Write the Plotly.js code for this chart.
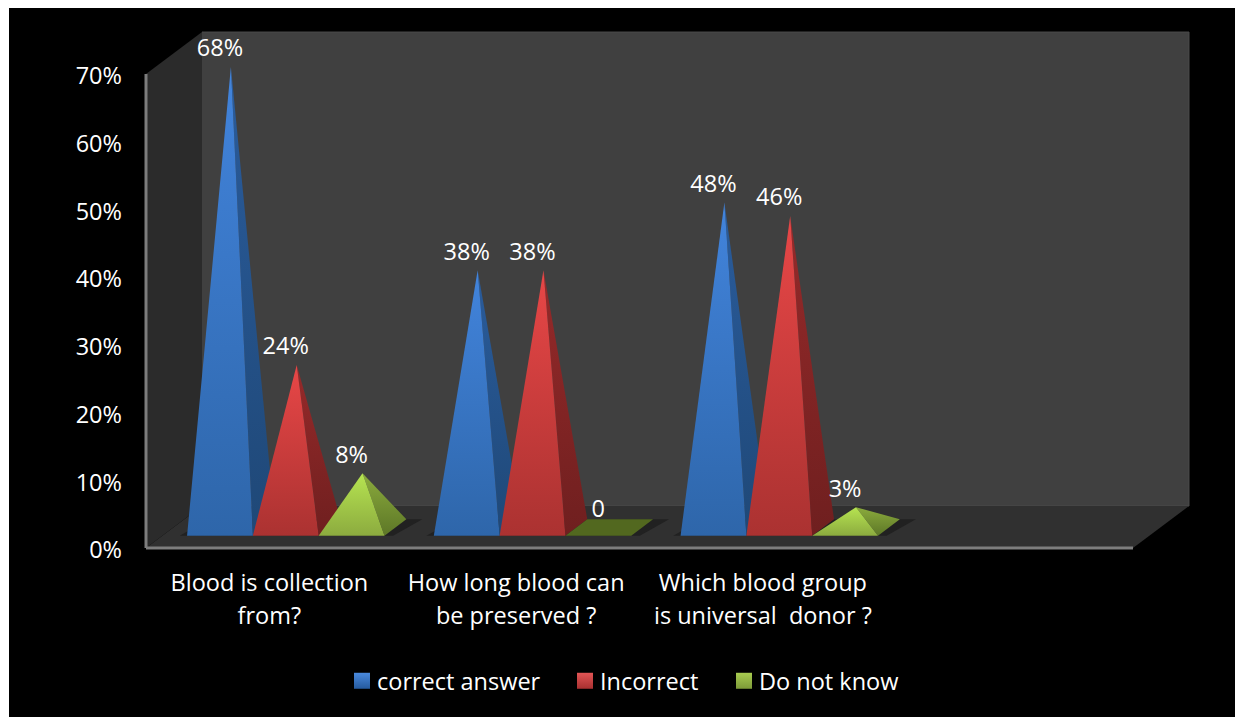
<!DOCTYPE html>
<html>
<head>
<meta charset="utf-8">
<script src="https://cdn.plot.ly/plotly-3.0.1.min.js"></script>
<style>
  html, body { margin: 0; padding: 0; background: #fff; overflow: hidden; }
  #chart { width: 1235px; height: 717px; }
</style>
</head>
<body>
<div id="chart"></div>
<script>
// Survey results
const categories = ['Blood is collection<br>from?', 'How long blood can<br>be preserved ?', 'Which blood group<br>is universal  donor ?'];
const seriesNames = ['correct answer', 'Incorrect', 'Do not know'];
const correctAnswer = [68, 38, 48];
const incorrect = [24, 38, 46];
const doNotKnow = [8, 0, 3];
const yTicks = [0, 10, 20, 30, 40, 50, 60, 70];

const seriesValues = [correctAnswer, incorrect, doNotKnow];

// Canvas and oblique projection settings
const W = 1235, H = 717;
const originX = 146, originY = 548;        // pixel of slot 0, value 0, depth 0
const pxPerSlot = 246.75, pxPerValue = 6.771;
const depthX = 56 / pxPerSlot, depthY = 42 / pxPerValue; // full depth shift in axis units
const slotCount = 4;
const barWidth = 1 / 3.75, gapLeft = 0.375 * barWidth;
const zFront = 0.293, zBack = 0.683, zMid = (zFront + zBack) / 2;

const FONT = 'Open Sans, sans-serif';
const FONT_SIZE = 23.5;

// Gradient stops run bottom colour first, top colour second
const faceColors = [
  { front: ['#2e66aa', '#4284dc'], side: ['#1f4877', '#2a5c9c'], base: '#2e66aa', swatch: ['#4a8ade', '#255a9e'] },
  { front: ['#ab3231', '#e84747'], side: ['#6f1f1f', '#962a2a'], base: '#ab3231', swatch: ['#e25555', '#a83030'] },
  { front: ['#8cab3f', '#b6e451'], side: ['#5d7727', '#8bab3d'], base: '#52681f', swatch: ['#a8cc50', '#7d9a38'] }
];

// Map slot position, value and depth to axis coordinates
function proj(slot, value, z) {
  return { x: slot + z * depthX, y: value + z * depthY };
}

function polygon(points, style) {
  return Object.assign({
    type: 'scatter', mode: 'lines', fill: 'toself',
    x: points.map(p => p.x), y: points.map(p => p.y),
    line: { width: 0 }, hoverinfo: 'skip', showlegend: false
  }, style);
}

function gradient(colors) {
  return { type: 'vertical', colorscale: [[0, colors[0]], [1, colors[1]]] };
}

const traces = [];

// Chart walls and floor
const maxV = yTicks[yTicks.length - 1];
traces.push(polygon([proj(0, 0, 1), proj(slotCount, 0, 1), proj(slotCount, maxV, 1), proj(0, maxV, 1)],
  { fillcolor: '#404040', line: { width: 1, color: '#4a4a4a' } }));
traces.push(polygon([proj(0, 0, 0), proj(0, 0, 1), proj(0, maxV, 1), proj(0, maxV, 0)],
  { fillcolor: '#2b2b2b' }));
traces.push(polygon([proj(0, 0, 0), proj(slotCount, 0, 0), proj(slotCount, 0, 1), proj(0, 0, 1)],
  { fillcolor: '#303030' }));

// Floor shadow under each group of pyramids
categories.forEach((_, c) => {
  const l = c + gapLeft - 0.03, r = c + gapLeft + 3 * barWidth + 0.035;
  traces.push(polygon([proj(l, 0, zFront), proj(r, 0, zFront), proj(r + 0.03, 0, zBack), proj(l + 0.03, 0, zBack)],
    { fillcolor: 'rgba(18,18,18,0.5)' }));
});

// Pyramids: side face first, front face over it, later series over earlier ones
seriesValues.forEach((values, s) => {
  values.forEach((v, c) => {
    const l = c + gapLeft + s * barWidth, r = l + barWidth, m = l + barWidth / 2;
    const colors = faceColors[s];
    if (v === 0) {
      traces.push(polygon([proj(l, 0, zFront), proj(r, 0, zFront), proj(r, 0, zBack), proj(l, 0, zBack)],
        { fillcolor: colors.base }));
      return;
    }
    const apex = proj(m, v, zMid);
    traces.push(polygon([proj(r, 0, zFront), proj(r, 0, zBack), apex], { fillgradient: gradient(colors.side), fillcolor: colors.side[1] }));
    traces.push(polygon([proj(l, 0, zFront), proj(r, 0, zFront), apex], { fillgradient: gradient(colors.front), fillcolor: colors.front[1] }));
  });
});

// Front edges of the axes
traces.push({ type: 'scatter', mode: 'lines', x: [0, 0], y: [0, maxV], line: { color: '#7d7d7d', width: 3 }, hoverinfo: 'skip', showlegend: false });
traces.push({ type: 'scatter', mode: 'lines', x: [0, slotCount], y: [0, 0], line: { color: '#7d7d7d', width: 3 }, hoverinfo: 'skip', showlegend: false });

// Value labels above each apex
const labelLift = 16.5 / pxPerValue;
seriesValues.forEach((values, s) => {
  const pts = values.map((v, c) => {
    const m = c + gapLeft + (s + 0.5) * barWidth;
    const front = proj(m, 0, zFront);
    return { x: front.x, y: proj(m, v, zMid).y + labelLift };
  });
  traces.push({
    type: 'scatter', mode: 'text', x: pts.map(p => p.x), y: pts.map(p => p.y),
    text: values.map(v => v === 0 ? '0' : v + '%'), textposition: 'middle center',
    textfont: { family: FONT, size: FONT_SIZE, color: '#fff' },
    hoverinfo: 'skip', showlegend: false
  });
});

// One legend per series so each entry can sit at its own position
const legendIds = ['legend', 'legend2', 'legend3'];
const legendLeft = [337, 560, 719];
seriesNames.forEach((name, s) => {
  traces.push({
    type: 'scatter', mode: 'markers', name: name, x: [null], y: [null], legend: legendIds[s],
    marker: { symbol: 'square', size: 16, color: faceColors[s].swatch[0],
      gradient: { type: 'vertical', color: faceColors[s].swatch[1] } }
  });
});

const layout = {
  width: W, height: H,
  margin: { l: 0, r: 0, t: 0, b: 0 },
  paper_bgcolor: '#fff', plot_bgcolor: 'rgba(0,0,0,0)',
  showlegend: true,
  xaxis: {
    domain: [0, 1], range: [-originX / pxPerSlot, (W - originX) / pxPerSlot],
    anchor: 'free', position: 1 - originY / H,
    tickmode: 'array', tickvals: categories.map((_, c) => c + 0.5), ticktext: categories,
    tickfont: { family: FONT, size: FONT_SIZE, color: '#fff' },
    ticklen: 0, ticklabelstandoff: 18, showgrid: false, zeroline: false, showline: false, tickangle: 0, fixedrange: true
  },
  yaxis: {
    domain: [0, 1], range: [-(H - originY) / pxPerValue, originY / pxPerValue],
    anchor: 'free', position: originX / W,
    tickmode: 'array', tickvals: yTicks, ticktext: yTicks.map(v => v + '%'),
    tickfont: { family: FONT, size: FONT_SIZE, color: '#fff' },
    ticklen: 0, ticklabelstandoff: 24, ticklabelshift: 2, showgrid: false, zeroline: false, showline: false, fixedrange: true
  },
  // Black slide background inside the thin white page edge
  shapes: [{
    type: 'rect', xref: 'paper', yref: 'paper', layer: 'below',
    x0: 9 / W, x1: 1, y0: 0, y1: 1 - 8 / H,
    fillcolor: '#000', line: { width: 0 }
  }]
};

legendIds.forEach((id, s) => {
  layout[id] = {
    x: legendLeft[s] / W, xanchor: 'left', y: 1 - 681 / H, yanchor: 'middle',
    font: { family: FONT, size: FONT_SIZE, color: '#fff' }, bgcolor: 'rgba(0,0,0,0)',
    itemwidth: 30
  };
});

Plotly.newPlot('chart', traces, layout, { displayModeBar: false, staticPlot: true }).then(() => {
  // Wider line spacing on the two-line category labels
  document.querySelectorAll('#chart .xtick text tspan.line').forEach((t, i) => {
    if (i % 2 === 1) t.setAttribute('dy', (33 / FONT_SIZE) + 'em');
  });
  // Tighten the gap between each legend swatch and its text
  document.querySelectorAll('#chart .legendpoints').forEach(g => {
    g.setAttribute('transform', 'translate(5,0)');
  });
});
</script>
</body>
</html>
